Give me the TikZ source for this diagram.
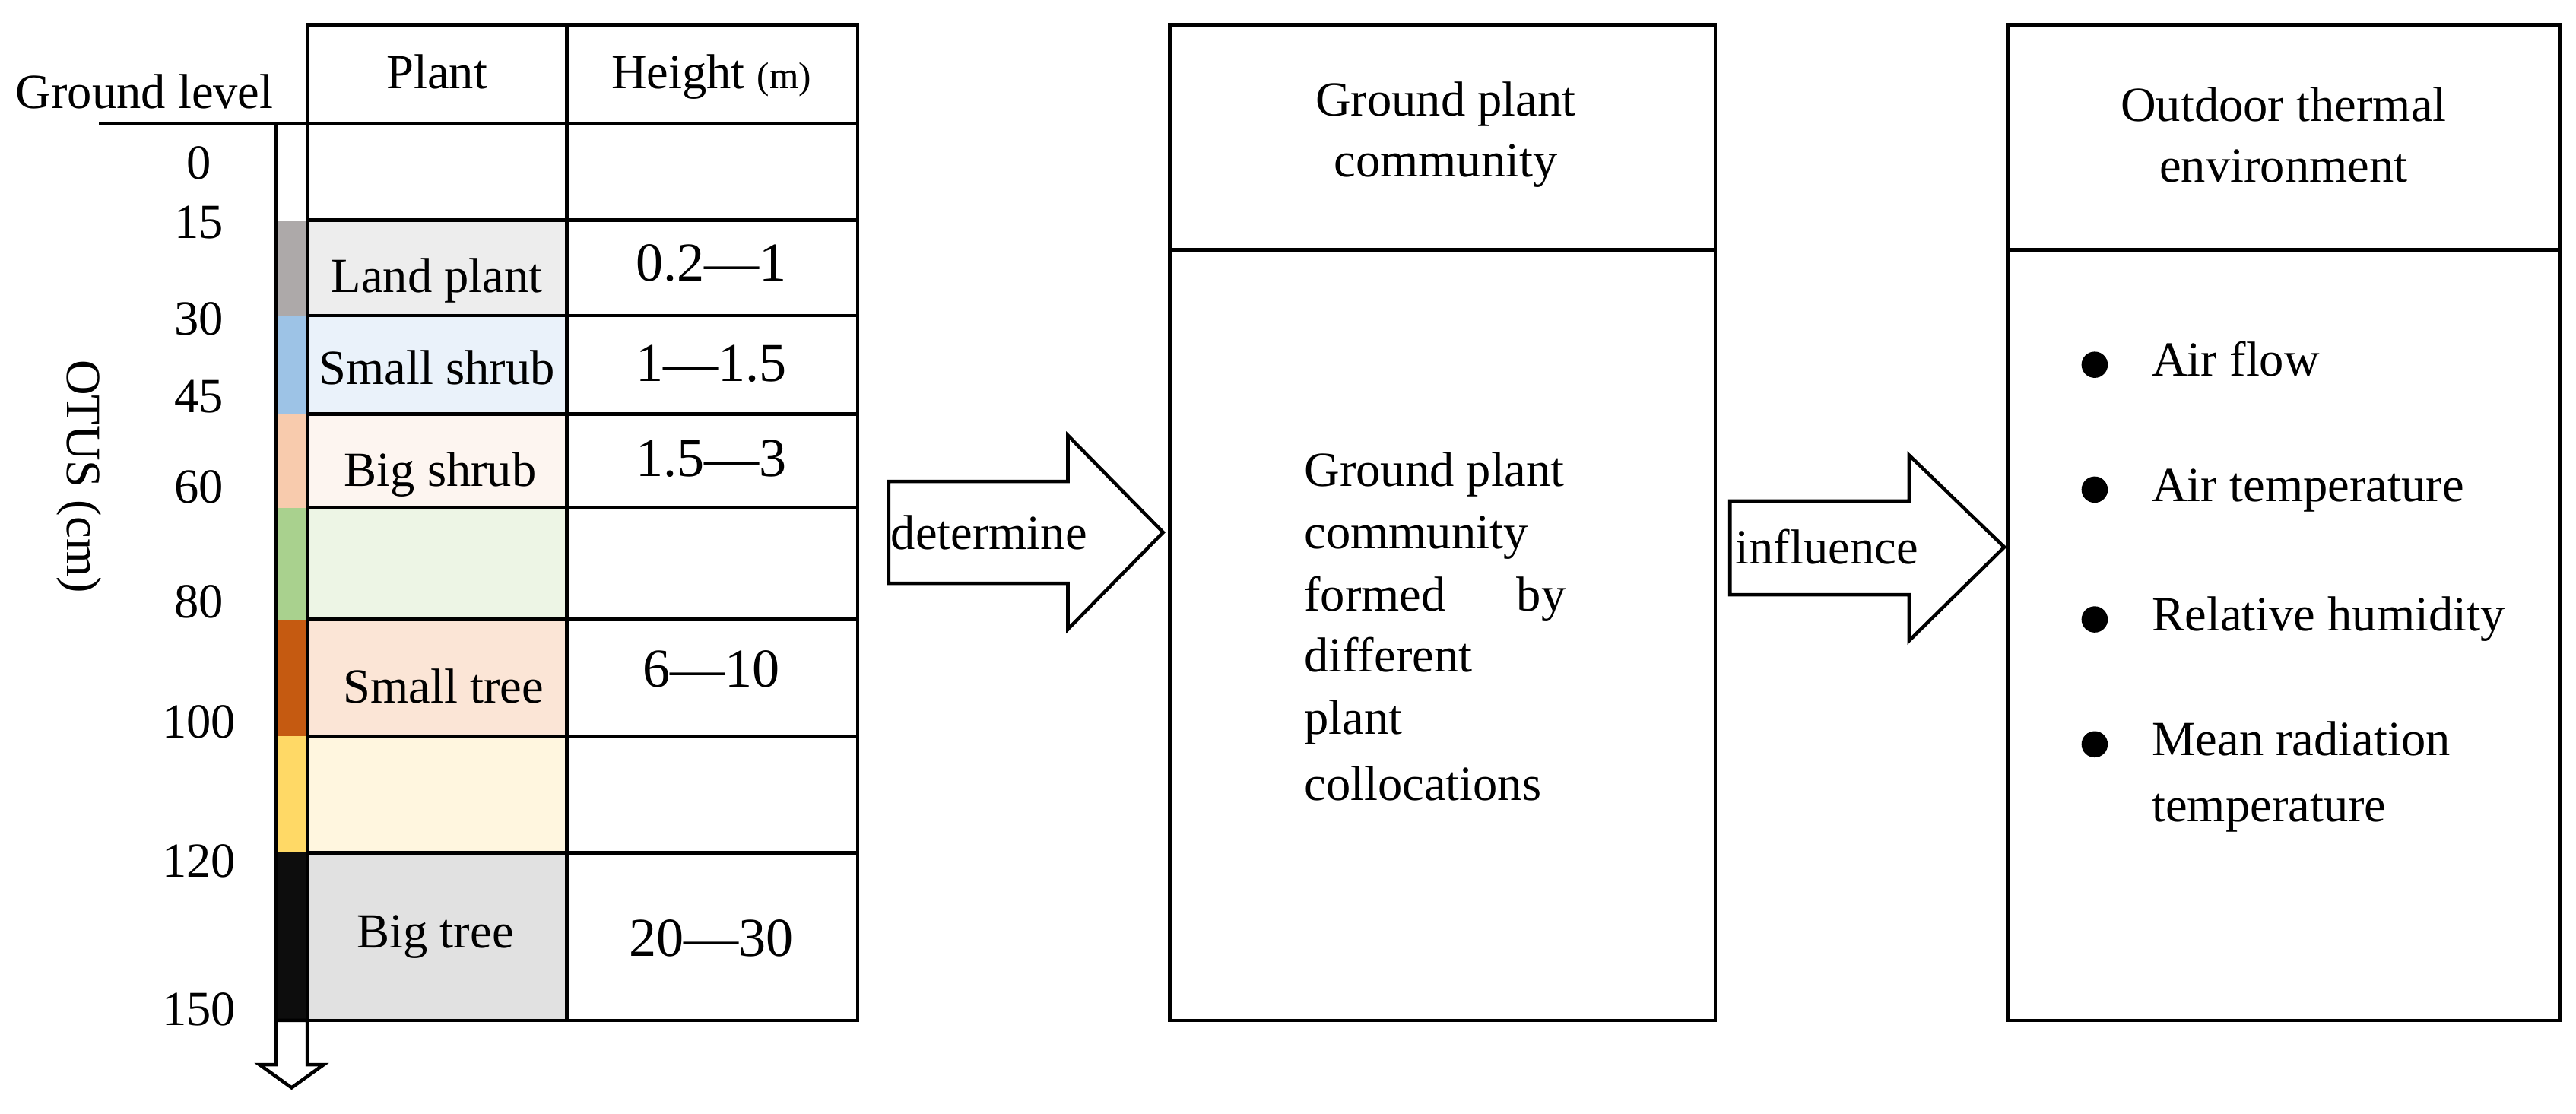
\documentclass[tikz,border=0pt]{standalone}
\usepackage{fontspec}
\setmainfont{Liberation Serif}
\definecolor{b1}{HTML}{ADA9A9}\definecolor{b2}{HTML}{9DC3E6}\definecolor{b3}{HTML}{F8CBAD}
\definecolor{b4}{HTML}{A9D18E}\definecolor{b5}{HTML}{C55A11}\definecolor{b6}{HTML}{FFD966}\definecolor{b7}{HTML}{0D0D0D}
\definecolor{c1}{HTML}{EDEDED}\definecolor{c2}{HTML}{EAF2FA}\definecolor{c3}{HTML}{FDF5F0}
\definecolor{c4}{HTML}{EDF5E5}\definecolor{c5}{HTML}{FBE5D6}\definecolor{c6}{HTML}{FFF6DF}\definecolor{c7}{HTML}{E1E1E1}
\begin{document}
\begin{tikzpicture}[x=0.02cm,y=-0.02cm,line width=1.2pt,
  every node/.style={font=\fontsize{17}{21}\selectfont},
  lab/.style={anchor=base},
  num/.style={anchor=base,font=\fontsize{19}{22}\selectfont},
  bigarrow/.style={draw,line width=1.2pt,fill=white}]
\useasboundingbox (0,0) rectangle (1568,678);
% color bar and plant cells
\foreach \a/\b/\cb/\cc in {134/192/b1/c1,192/252/b2/c2,252/309/b3/c3,309/377/b4/c4,377/448/b5/c5,448/519/b6/c6,519/621/b7/c7}{
  \fill[\cb] (168,\a) rectangle (187,\b);
  \fill[\cc] (187,\a) rectangle (345,\b);
}
% table grid
\draw (187,15) rectangle (522,621);
\draw (345,15) -- (345,621);
\foreach \y in {75,134,192,252,309,377,448,519}{\draw (187,\y) -- (522,\y);}
\draw (60,75) -- (187,75);
\draw (168,75) -- (168,621) -- (187,621);
\node[lab] (gl) at (88,66) {Ground level};
\node[lab] (hp) at (266,54) {Plant};
\node[lab] (hh) at (433,54) {Height {\fontsize{13}{15}\selectfont(m)}};
\node[lab] (p1) at (266,178) {Land plant};
\node[lab] (p2) at (266,234) {Small shrub};
\node[lab] (p3) at (268,296) {Big shrub};
\node[lab] (p5) at (270,428) {Small tree};
\node[lab] (p7) at (265,577) {Big tree};
\node[num] (h1) at (433,171) {0.2—1};
\node[num] (h2) at (433,232) {1—1.5};
\node[num] (h3) at (433,290) {1.5—3};
\node[num] (h5) at (433,418) {6—10};
\node[num] (h7) at (433,582) {20—30};
\foreach \n/\y in {0/109,15/145,30/204,45/251,60/306,80/376,100/449,120/534,150/624}{
  \node[lab] (t\n) at (121,\y) {\n};
}
\node[rotate=-90] (otus) at (48,290) {OTUS (cm)};
\draw[bigarrow] (168,621) -- (187,621) -- (187,648) -- (197,648) -- (177.5,662) -- (158,648) -- (168,648) -- cycle;
% middle box
\draw (712,15) rectangle (1044,621);
\draw (712,152) -- (1044,152);
\node[align=center] (mh) at (880,82) {Ground plant\\community};
\node[lab,anchor=base west] (m1) at (787,296) {Ground plant};
\node[lab,anchor=base west] (m2) at (787,334) {community};
\node[lab,anchor=base west] (m3) at (787,372) {formed};
\node[lab,anchor=base east] (m3b) at (960,372) {by};
\node[lab,anchor=base west] (m4) at (787,409) {different};
\node[lab,anchor=base west] (m5) at (787,447) {plant};
\node[lab,anchor=base west] (m6) at (787,487) {collocations};
% right box
\draw (1222,15) rectangle (1558,621);
\draw (1222,152) -- (1558,152);
\node[align=center] (rh) at (1390,82) {Outdoor thermal\\environment};
\foreach \y/\t in {229/Air flow,305/Air temperature,384/Relative humidity,460/Mean radiation}{
  \fill (1275,\y-7) circle (8);
  \node[lab,anchor=base west] at (1303,\y) {\t};
}
\node[lab,anchor=base west] (r5) at (1303,500) {temperature};
% arrows
\draw[bigarrow] (541,293) -- (650,293) -- (650,265) -- (708,324) -- (650,383) -- (650,355) -- (541,355) -- cycle;
\node (det) at (602,324) {determine};
\draw[bigarrow] (1053,305) -- (1162,305) -- (1162,277) -- (1220,333) -- (1162,390) -- (1162,362) -- (1053,362) -- cycle;
\node (inf) at (1112,333) {influence};
\end{tikzpicture}
\end{document}
